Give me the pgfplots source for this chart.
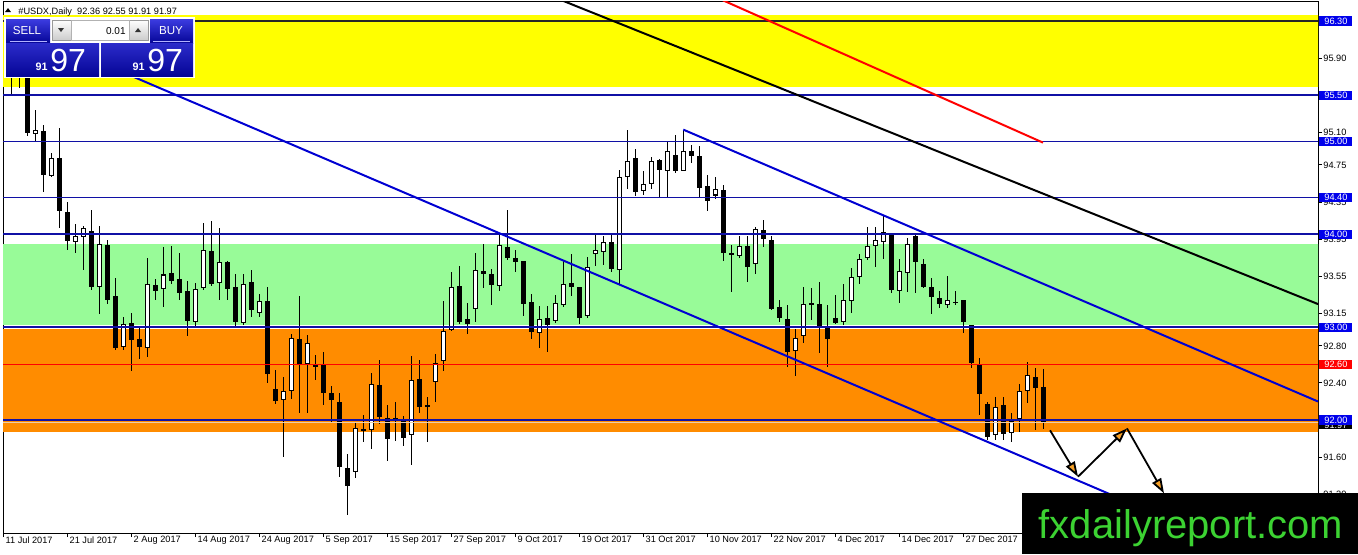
\documentclass[border=0pt]{standalone}
\usepackage{pgfplots}
\pgfplotsset{compat=1.18}
\usepackage{pgfplotstable}
\usepackage{fontspec}
\setmainfont{Liberation Sans}
\usetikzlibrary{arrows.meta}

\definecolor{trblue}{RGB}{0,0,210}
\definecolor{hblue}{RGB}{16,16,165}
\definecolor{lblue}{RGB}{0,0,235}
\definecolor{bandY}{RGB}{255,255,0}
\definecolor{bandG}{RGB}{152,251,152}
\definecolor{bandO}{RGB}{255,140,0}
\definecolor{logogreen}{RGB}{60,210,50}
\definecolor{bidline}{RGB}{235,205,170}
\definecolor{arrorange}{RGB}{245,160,40}
\definecolor{btntop}{RGB}{60,60,225}
\definecolor{btnbot}{RGB}{5,5,150}

\newcommand\ticks{\fontsize{4.6pt}{5pt}\selectfont}

% daily bars: index, open, high, low, close
\pgfplotstableread{
k o h l c
1 95.95 96.05 95.50 95.72
2 95.72 95.90 95.58 95.80
3 95.80 95.85 95.06 95.09
4 95.08 95.34 95.00 95.13
5 95.11 95.18 94.46 94.64
6 94.63 94.88 94.62 94.82
7 94.82 95.15 94.07 94.25
8 94.24 94.35 93.83 93.93
9 93.92 94.11 93.80 93.98
10 93.97 94.09 93.62 94.07
11 94.04 94.27 93.40 93.43
12 93.43 94.09 93.14 93.90
13 93.89 93.94 93.25 93.30
14 93.34 93.53 92.75 92.78
15 92.79 93.11 92.76 93.04
16 93.05 93.15 92.53 92.86
17 92.87 93.02 92.66 92.79
18 92.78 93.75 92.68 93.47
19 93.46 93.52 93.29 93.39
20 93.41 93.86 93.22 93.57
21 93.59 93.88 93.47 93.50
22 93.52 93.80 93.29 93.37
23 93.39 93.50 92.91 93.07
24 93.06 93.48 93.01 93.41
25 93.42 94.12 93.40 93.83
26 93.82 94.14 93.44 93.47
27 93.48 94.07 93.29 93.70
28 93.70 93.72 93.30 93.41
29 93.43 93.57 93.00 93.06
30 93.05 93.57 93.03 93.47
31 93.49 93.62 93.11 93.19
32 93.16 93.36 93.11 93.28
33 93.28 93.43 92.40 92.50
34 92.33 92.54 92.17 92.21
35 92.22 92.46 91.60 92.31
36 92.31 92.93 92.23 92.88
37 92.87 93.34 92.08 92.59
38 92.60 92.92 92.08 92.83
39 92.60 92.70 92.43 92.57
40 92.60 92.73 92.16 92.29
41 92.29 92.37 91.98 92.22
42 92.20 92.29 91.39 91.49
43 91.48 91.64 90.98 91.29
44 91.44 91.98 91.38 91.91
45 91.89 92.06 91.76 91.90
46 91.89 92.51 91.69 92.39
47 92.38 92.65 91.96 92.03
48 92.02 92.16 91.56 91.80
49 92.00 92.19 91.77 92.02
50 92.00 92.04 91.72 91.81
51 91.84 92.69 91.52 92.43
52 92.44 92.65 92.08 92.14
53 92.16 92.25 91.76 92.14
54 92.41 92.71 92.19 92.62
55 92.64 93.28 92.53 92.96
56 92.97 93.60 92.96 93.44
57 93.44 93.66 93.04 93.06
58 93.09 93.26 92.93 93.04
59 93.20 93.80 93.06 93.62
60 93.61 93.90 93.42 93.57
61 93.57 93.63 93.24 93.46
62 93.44 94.00 93.39 93.89
63 93.86 94.26 93.73 93.75
64 93.75 93.83 93.60 93.70
65 93.71 93.72 93.12 93.25
66 93.27 93.36 92.87 92.95
67 92.94 93.23 92.78 93.09
68 93.10 93.23 92.73 93.03
69 93.07 93.35 93.05 93.26
70 93.24 93.71 93.22 93.47
71 93.48 93.79 93.34 93.43
72 93.43 93.43 93.04 93.10
73 93.12 93.76 93.10 93.65
74 93.79 94.00 93.66 93.83
75 93.81 93.98 93.67 93.92
76 93.92 94.00 93.60 93.63
77 93.62 94.70 93.47 94.62
78 94.62 95.13 94.49 94.79
79 94.82 94.92 94.42 94.46
80 94.47 94.68 94.43 94.54
81 94.54 94.84 94.49 94.79
82 94.80 94.81 94.41 94.69
83 94.69 95.00 94.39 94.90
84 94.86 95.07 94.66 94.68
85 94.69 95.13 94.68 94.90
86 94.90 94.96 94.77 94.85
87 94.85 94.95 94.39 94.50
88 94.52 94.64 94.25 94.36
89 94.42 94.62 94.38 94.49
90 94.48 94.53 93.72 93.80
91 93.79 93.89 93.38 93.79
92 93.77 93.98 93.75 93.88
93 93.88 93.98 93.49 93.65
94 93.68 94.08 93.57 94.06
95 94.05 94.16 93.86 93.95
96 93.94 93.98 93.19 93.20
97 93.22 93.29 93.06 93.10
98 93.09 93.24 92.57 92.73
99 92.75 92.98 92.47 92.89
100 92.91 93.44 92.83 93.25
101 93.24 93.42 93.08 93.26
102 93.25 93.49 92.72 93.00
103 93.00 93.24 92.57 92.87
104 93.10 93.35 93.04 93.05
105 93.06 93.47 93.02 93.29
106 93.28 93.64 93.15 93.54
107 93.54 93.79 93.47 93.74
108 93.75 94.08 93.72 93.88
109 93.88 94.08 93.65 93.94
110 93.92 94.21 93.74 94.03
111 94.01 94.01 93.37 93.40
112 93.39 93.74 93.26 93.61
113 93.59 93.96 93.38 93.90
114 93.98 94.01 93.37 93.70
115 93.68 93.74 93.42 93.43
116 93.44 93.53 93.14 93.33
117 93.32 93.39 93.21 93.25
118 93.24 93.55 93.21 93.29
119 93.27 93.39 93.24 93.27
120 93.29 93.29 92.94 93.06
121 93.02 93.03 92.56 92.61
122 92.61 92.67 92.05 92.28
123 92.17 92.19 91.78 91.82
124 91.84 92.25 91.79 92.14
125 92.16 92.25 91.79 91.85
126 91.86 92.08 91.77 91.99
127 92.01 92.39 91.87 92.31
128 92.31 92.63 92.18 92.49
129 92.47 92.56 91.89 92.35
130 92.36 92.55 91.91 91.97
}\candles

\begin{document}
\begin{tikzpicture}
\begin{axis}[
  at={(1.5pt,10.5pt)}, anchor=south west,
  scale only axis, width=657.5pt, height=266pt,
  xmin=-0.04, xmax=164.34, ymin=90.783, ymax=96.516,
  clip mode=individual,
  axis line style={black, line width=0.5pt},
  tick style={black, line width=0.5pt},
  tick align=outside, major tick length=2pt,
  xtick pos=left, ytick pos=right, yticklabel pos=right,
  ytick={95.90,95.50,95.10,94.75,94.35,93.95,93.55,93.15,92.80,92.40,92.00,91.60,91.20},
  yticklabels={95.90,95.50,95.10,94.75,94.35,93.95,93.55,93.15,92.80,92.40,92.00,91.60,91.20},
  yticklabel style={font=\ticks, anchor=west, inner sep=0pt, xshift=0.5pt},
  xtick={0,8,...,120},
  xticklabels={11 Jul 2017,21 Jul 2017,2 Aug 2017,14 Aug 2017,24 Aug 2017,5 Sep 2017,15 Sep 2017,27 Sep 2017,9 Oct 2017,19 Oct 2017,31 Oct 2017,10 Nov 2017,22 Nov 2017,4 Dec 2017,14 Dec 2017,27 Dec 2017},
  xticklabel style={font=\ticks, anchor=north west, inner sep=0pt, xshift=1pt, yshift=0.5pt},
  candle/.style={draw=none, mark=none, forget plot, error bars/.cd, y dir=both, y explicit, error mark=none},
]
% zones
\addplot[draw=none, fill=bandY] coordinates {(-1,95.59) (166,95.59) (166,96.37) (-1,96.37)} -- cycle;
\addplot[draw=none, fill=bandG] coordinates {(-1,93.02) (166,93.02) (166,93.90) (-1,93.90)} -- cycle;
\addplot[draw=none, fill=bandO] coordinates {(-1,91.87) (166,91.87) (166,92.98) (-1,92.98)} -- cycle;

% wicks, bodies, hollow part of up bars
\addplot[candle, error bar style={draw=black, line width=0.5pt}]
  table[x=k, y expr={(\thisrow{h}+\thisrow{l})/2}, y error expr={(\thisrow{h}-\thisrow{l})/2}] {\candles};
\addplot[candle, error bar style={draw=black, line width=2.4pt}]
  table[x=k, y expr={(\thisrow{o}+\thisrow{c})/2}, y error expr={max(abs(\thisrow{o}-\thisrow{c})/2,0.006)}] {\candles};
\addplot[candle, error bar style={draw=white, line width=1.4pt}]
  table[x=k, y expr={(\thisrow{o}+\thisrow{c})/2}, y error expr={max((\thisrow{c}-\thisrow{o})/2-0.011,0)}] {\candles};

% levels
\addplot[black!85, line width=1pt] coordinates {(-1,96.30) (166,96.30)};
\addplot[hblue, line width=1pt] coordinates {(-1,95.50) (166,95.50)};
\addplot[hblue, line width=0.5pt] coordinates {(-1,95.00) (166,95.00)};
\addplot[hblue, line width=0.5pt] coordinates {(-1,94.40) (166,94.40)};
\addplot[hblue, line width=1pt] coordinates {(-1,94.00) (166,94.00)};
\addplot[hblue, line width=1pt] coordinates {(-1,93.00) (166,93.00)};
\addplot[red, line width=0.5pt] coordinates {(-1,92.60) (166,92.60)};
\addplot[bidline, line width=0.5pt] coordinates {(-1,91.97) (166,91.97)};
\addplot[hblue, line width=1pt] coordinates {(-1,92.00) (166,92.00)};

% trend lines
\addplot[trblue, line width=1pt] coordinates {(10,95.93) (140,91.14)};
\addplot[trblue, line width=1pt] coordinates {(85,95.13) (164.34,92.20)};
\addplot[black, line width=1pt] coordinates {(65,96.69) (164.34,93.25)};
\addplot[red, line width=1pt] coordinates {(89,96.56) (129.96,94.99)};

% expected path
\addplot[black, line width=0.9pt, -{Triangle[length=7.5pt,width=5pt,fill=arrorange]}] coordinates {(130.84,91.89) (134.34,91.39)};
\addplot[black, line width=0.9pt, -{Triangle[length=7.5pt,width=5pt,fill=arrorange]}] coordinates {(134.34,91.39) (140.46,91.91)};
\addplot[black, line width=0.9pt, -{Triangle[length=7.5pt,width=5pt,fill=arrorange]}] coordinates {(140.46,91.91) (145.09,91.21)};

\coordinate (r9630) at (axis cs:164.34,96.30);
\coordinate (r9550) at (axis cs:164.34,95.50);
\coordinate (r9500) at (axis cs:164.34,95.00);
\coordinate (r9440) at (axis cs:164.34,94.40);
\coordinate (r9400) at (axis cs:164.34,94.00);
\coordinate (r9300) at (axis cs:164.34,93.00);
\coordinate (r9260) at (axis cs:164.34,92.60);
\coordinate (r9200) at (axis cs:164.34,92.00);
\coordinate (r9197) at (axis cs:164.34,91.97);
\end{axis}

\tikzset{plab/.style={anchor=west, inner sep=0pt, minimum width=16.5pt, minimum height=4.6pt, text=white, font=\ticks}}
\node[plab, fill=black] at ([xshift=0.5pt,yshift=-1pt]r9197) {91.97};
\node[plab, fill=lblue] at ([xshift=0.5pt]r9630) {96.30};
\node[plab, fill=lblue] at ([xshift=0.5pt]r9550) {95.50};
\node[plab, fill=lblue] at ([xshift=0.5pt]r9500) {95.00};
\node[plab, fill=lblue] at ([xshift=0.5pt]r9440) {94.40};
\node[plab, fill=lblue] at ([xshift=0.5pt]r9400) {94.00};
\node[plab, fill=lblue] at ([xshift=0.5pt]r9300) {93.00};
\node[plab, fill=red] at ([xshift=0.5pt]r9260) {92.60};
\node[plab, fill=lblue] at ([xshift=0.5pt]r9200) {92.00};

% overlays in pixel units, origin top left
\begin{scope}[x=0.5pt, y=-0.5pt, shift={(0pt,277pt)}]
  % logo
  \fill[black] (1022,493) rectangle (1358,554);
  \node[anchor=base, text=logogreen, font=\fontsize{20pt}{22pt}\selectfont, inner sep=0pt] at (1191,538) {fxdailyreport.com};
  % title
  \fill[black] (5,12) -- (11,12) -- (8,8) -- cycle;
  \node[anchor=base west, inner sep=0pt, font=\ticks] at (18,14) {\#USDX,Daily\ \ 92.36 92.55 91.91 91.97};
  % one click panel
  \fill[white] (4,17) rectangle (195,78);
  \shade[top color=btntop, bottom color=btnbot] (6,19) rectangle (50,43);
  \shade[top color=btntop!70!btnbot, bottom color=btnbot] (6,43) rectangle (99,76);
  \shade[top color=btntop, bottom color=btnbot] (150,19) rectangle (193,43);
  \shade[top color=btntop!70!btnbot, bottom color=btnbot] (101,43) rectangle (193,76);
  \draw[white!70!blue, line width=0.4pt] (10,41.5) -- (47,41.5) (153,41.5) -- (190,41.5);
  \shade[top color=white, bottom color=black!20, draw=black!40, line width=0.3pt] (52,20) rectangle (71,40);
  \shade[top color=white, bottom color=black!20, draw=black!40, line width=0.3pt] (129,20) rectangle (148,40);
  \draw[black!30, fill=white, line width=0.3pt] (71,20) rectangle (129,40);
  \fill[black!80] (58,28) -- (64,28) -- (61,32) -- cycle;
  \fill[black!80] (135,32) -- (141,32) -- (138,28) -- cycle;
  \node[anchor=base east, inner sep=0pt, font=\fontsize{5pt}{6pt}\selectfont] at (126,34) {0.01};
  \node[text=white, inner sep=0pt, font=\fontsize{5.8pt}{6pt}\selectfont] at (27,31) {SELL};
  \node[text=white, inner sep=0pt, font=\fontsize{5.8pt}{6pt}\selectfont] at (171,31) {BUY};
  \node[anchor=base east, text=white, inner sep=0pt, font=\fontsize{5.4pt}{6pt}\selectfont\bfseries] at (48,70) {91};
  \node[anchor=base west, text=white, inner sep=0pt, font=\fontsize{16pt}{17pt}\selectfont] at (50,71) {97};
  \node[anchor=base east, text=white, inner sep=0pt, font=\fontsize{5.4pt}{6pt}\selectfont\bfseries] at (145,70) {91};
  \node[anchor=base west, text=white, inner sep=0pt, font=\fontsize{16pt}{17pt}\selectfont] at (147,71) {97};
\end{scope}

\pgfresetboundingbox
\useasboundingbox (0,0) rectangle (679pt,277pt);
\end{tikzpicture}
\end{document}
